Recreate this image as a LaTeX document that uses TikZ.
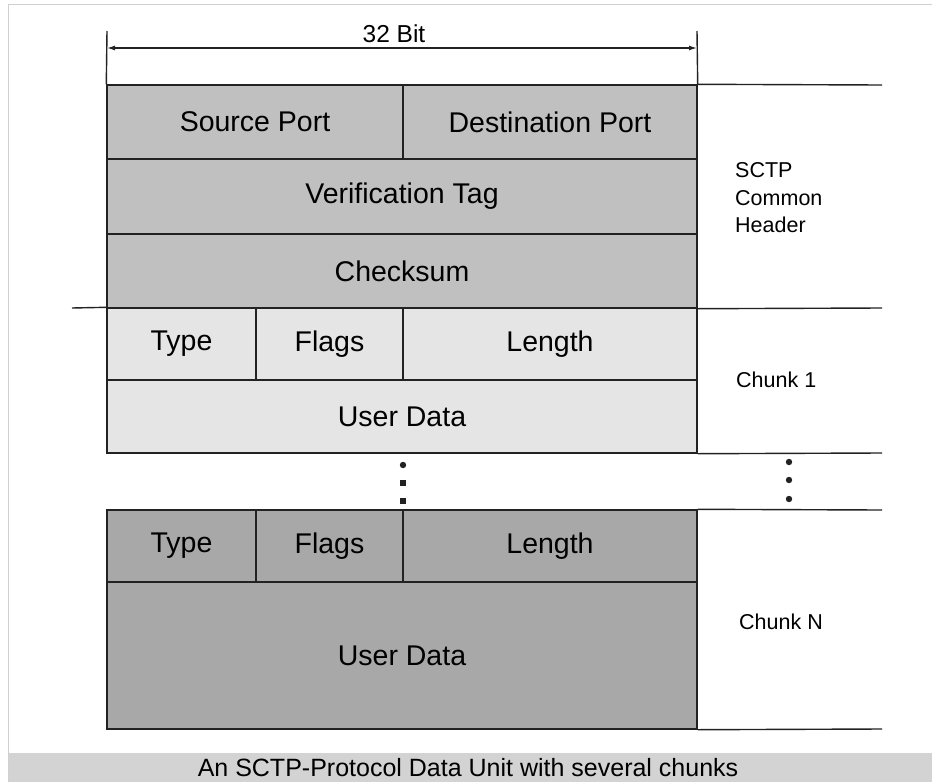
\documentclass[tikz,border=0pt]{standalone}
\usepackage{fontspec}
\setmainfont{Liberation Sans}
\usetikzlibrary{arrows.meta}
\definecolor{hdr}{HTML}{C0C0C0}
\definecolor{chone}{HTML}{E5E5E5}
\definecolor{chn}{HTML}{A8A8A8}
\definecolor{capbg}{HTML}{D3D3D3}
\definecolor{framec}{HTML}{D0D0D0}
\definecolor{ink}{HTML}{222222}
\begin{document}
\begin{tikzpicture}[x=1pt,y=-1pt,
  fieldbox/.style={draw=ink, line width=1.4pt, inner sep=0pt, font=\fontsize{28.5}{34}\selectfont},
  sidelabel/.style={anchor=west, inner sep=0pt, font=\fontsize{21.5}{27.5}\selectfont, align=left},
  rulel/.style={draw=ink, line width=1.4pt},
  dimarrow/.style={draw=ink, line width=1.3pt, {Latex[length=8pt,width=5pt]}-{Latex[length=8pt,width=5pt]}}]

\useasboundingbox (0,0) rectangle (932,782);
\fill[white] (0,0) rectangle (932,782);
\fill[capbg] (8,753) rectangle (932,782);
\draw[framec, line width=1pt] (8,782) -- (8,4.5) -- (932,4.5);
\node[font=\fontsize{25}{30}\selectfont, inner sep=0pt] (cap) at (468,768) {An SCTP-Protocol Data Unit with several chunks};

% common header
\node[fieldbox, fill=hdr, minimum width=296pt, minimum height=74pt] (sp) at (255,122) {Source Port};
\node[fieldbox, fill=hdr, minimum width=294pt, minimum height=74pt] (dp) at (550,122) {Destination Port};
\node[fieldbox, fill=hdr, minimum width=590pt, minimum height=75pt] (vt) at (402,196.5) {Verification Tag};
\node[fieldbox, fill=hdr, minimum width=590pt, minimum height=74pt] (cs) at (402,271) {Checksum};

% chunk 1
\node[fieldbox, fill=chone, minimum width=149pt, minimum height=72pt] (ta) at (181.5,344) {Type};
\node[fieldbox, fill=chone, minimum width=147pt, minimum height=72pt] (fa) at (329.5,344) {Flags};
\node[fieldbox, fill=chone, minimum width=294pt, minimum height=72pt] (la) at (550,344) {Length};
\node[fieldbox, fill=chone, minimum width=590pt, minimum height=73pt] (ua) at (402,416.5) {User Data};

% chunk N
\node[fieldbox, fill=chn, minimum width=149pt, minimum height=72pt] (tb) at (181.5,546) {Type};
\node[fieldbox, fill=chn, minimum width=147pt, minimum height=72pt] (fb) at (329.5,546) {Flags};
\node[fieldbox, fill=chn, minimum width=294pt, minimum height=72pt] (lb) at (550,546) {Length};
\node[fieldbox, fill=chn, minimum width=590pt, minimum height=147pt] (ub) at (402,655.5) {User Data};

% dimension
\coordinate (tickL) at (107,31);
\coordinate (tickR) at (697,31);
\coordinate (dimL) at (107,48);
\coordinate (dimR) at (697,48);
\draw[rulel] (tickL) -- (sp.north west);
\draw[rulel] (tickR) -- (dp.north east);
\draw[dimarrow] (dimL) -- (dimR);
\node[font=\fontsize{24.5}{29}\selectfont, inner sep=0pt] (bits) at (394,34) {32 Bit};

% horizontal rules to the right
\coordinate (r0) at (882,85);
\coordinate (r1) at (882,308);
\coordinate (r2) at (882,453);
\coordinate (r3) at (882,510);
\coordinate (r4) at (882,729);
\coordinate (l1) at (72,308);
\draw[rulel] (dp.north east) -- (r0);
\draw[rulel] (l1) -- (ta.north west);
\draw[rulel] (cs.south east) -- (r1);
\draw[rulel] (ua.south east) -- (r2);
\draw[rulel] (lb.north east) -- (r3);
\draw[rulel] (ub.south east) -- (r4);

% continuation dots
\fill[ink] (403,465) circle[radius=3.2pt];
\fill[ink] (400,480) rectangle (406,486);
\fill[ink] (400,498) rectangle (406,504);
\fill[ink] (789,462) circle[radius=3.2pt];
\fill[ink] (789,480) circle[radius=3.2pt];
\fill[ink] (789,499) circle[radius=3.2pt];

% side labels
\node[sidelabel] (hdrlbl) at (735,198) {SCTP\\Common\\Header};
\node[sidelabel] (c1lbl) at (736,380) {Chunk 1};
\node[sidelabel] (cnlbl) at (739,622) {Chunk N};
\end{tikzpicture}
\end{document}
